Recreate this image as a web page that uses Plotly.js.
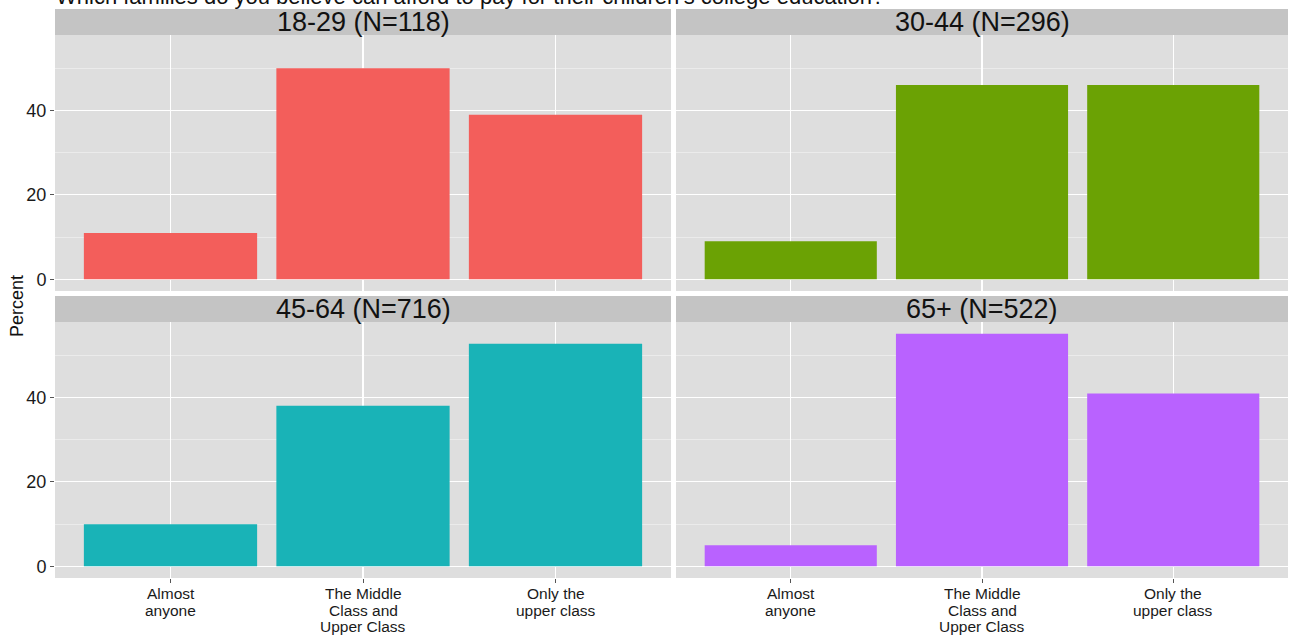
<!DOCTYPE html>
<html>
<head>
<meta charset="utf-8">
<script src="https://cdn.plot.ly/plotly-3.0.1.min.js"></script>
<style>html,body{margin:0;padding:0;background:#fff;}#chart{width:1289px;height:639px;}</style>
</head>
<body>
<div id="chart"></div>
<script>
// ---- data ----
const categories = ['Almost anyone', 'The Middle Class and Upper Class', 'Only the upper class'];
const tickLabels = ['Almost<br>anyone', 'The Middle<br>Class and<br>Upper Class', 'Only the<br>upper class'];
const groups = ['18-29 (N=118)', '30-44 (N=296)', '45-64 (N=716)', '65+ (N=522)'];
const values1829 = [11, 50, 39];
const values3044 = [9, 46, 46];
const values4564 = [10, 38, 52.7];
const values65 = [5, 55.1, 40.9];
const colors = ['#F35E5B', '#6BA204', '#19B3B7', '#B962FF'];
const titleText = 'Which families do you believe can afford to pay for their children\u2019s college education?';

const allValues = [values1829, values3044, values4564, values65];
const W = 1289, H = 639;
const px = v => v / W;
const py = v => 1 - v / H;

// panel pixel boxes
const xDomL = [px(55), px(671)], xDomR = [px(676), px(1288)];
const yDomT = [py(291), py(35)], yDomB = [py(578), py(322)];
const stripT = [py(35), py(9)], stripB = [py(322), py(296)];
const doms = [[xDomL, yDomT], [xDomR, yDomT], [xDomL, yDomB], [xDomR, yDomB]];
const strips = [stripT, stripT, stripB, stripB];

const maxV = Math.max(...allValues.flat());
const yRange = [-0.05 * maxV, 1.05 * maxV];

const traces = [];
const layout = {
  width: W, height: H,
  margin: {l: 0, r: 0, t: 0, b: 0},
  paper_bgcolor: '#ffffff',
  plot_bgcolor: '#DEDEDE',
  showlegend: false,
  bargap: 0.1,
  font: {family: 'Liberation Sans, Arial, sans-serif', color: '#1a1a1a'},
  shapes: [],
  annotations: []
};

allValues.forEach((vals, i) => {
  const n = i + 1;
  const xa = 'x' + (n === 1 ? '' : n), ya = 'y' + (n === 1 ? '' : n);
  traces.push({
    type: 'bar', x: categories, y: vals, xaxis: xa, yaxis: ya,
    marker: {color: colors[i], line: {width: 0}}, width: 0.9,
    hoverinfo: 'x+y'
  });
  const bottom = i >= 2, left = i % 2 === 0;
  layout['xaxis' + (n === 1 ? '' : n)] = {
    domain: doms[i][0], anchor: ya,
    type: 'category', categoryarray: categories,
    range: [-0.6, 2.6],
    showgrid: true, gridcolor: '#ffffff', gridwidth: 1.2,
    zeroline: false, showline: false,
    ticks: bottom ? 'outside' : '', ticklen: 4, tickcolor: '#555555',
    tickvals: categories,
    showticklabels: false
  };
  layout['yaxis' + (n === 1 ? '' : n)] = {
    domain: doms[i][1], anchor: xa,
    range: yRange,
    tickvals: [0, 20, 40], ticktext: ['0', '20', '40'],
    showgrid: true, gridcolor: '#ffffff', gridwidth: 1.2,
    minor: {tickvals: [10, 30, 50], showgrid: true, gridcolor: '#EBEBEB', gridwidth: 1, ticks: ''},
    zeroline: false, showline: false,
    ticks: left ? 'outside' : '', ticklen: 4, tickcolor: '#555555',
    showticklabels: left,
    tickfont: {size: 18, color: '#1a1a1a'}
  };
  // x tick labels (tight line spacing like the reference)
  if (bottom) {
    categories.forEach((c, ci) => {
      tickLabels[ci].split('<br>').forEach((line, li) => {
        layout.annotations.push({
          xref: xa, yref: 'paper', x: c, y: py(578),
          xanchor: 'center', yanchor: 'top', yshift: -(5 + 16.5 * li),
          showarrow: false, text: line,
          font: {size: 15.5, color: '#1a1a1a'}
        });
      });
    });
  }
  // strip
  layout.shapes.push({
    type: 'rect', xref: 'paper', yref: 'paper', layer: 'below',
    x0: doms[i][0][0], x1: doms[i][0][1], y0: strips[i][0], y1: strips[i][1],
    fillcolor: '#C4C4C4', line: {width: 0}
  });
  layout.annotations.push({
    xref: 'paper', yref: 'paper',
    x: (doms[i][0][0] + doms[i][0][1]) / 2, y: (strips[i][0] + strips[i][1]) / 2,
    xanchor: 'center', yanchor: 'middle', showarrow: false,
    text: groups[i], font: {size: 27, color: '#111111'}
  });
});

layout.annotations.push({
  xref: 'paper', yref: 'paper', x: px(54), y: 1 + 3 / H,
  xanchor: 'left', yanchor: 'middle', showarrow: false,
  text: titleText, font: {size: 22, color: '#111111'}
});
layout.annotations.push({
  xref: 'paper', yref: 'paper', x: px(17), y: py(306),
  xanchor: 'center', yanchor: 'middle', showarrow: false, textangle: -90,
  text: 'Percent', font: {size: 18, color: '#111111'}
});

Plotly.newPlot('chart', traces, layout, {displayModeBar: false, staticPlot: true});
</script>
</body>
</html>
